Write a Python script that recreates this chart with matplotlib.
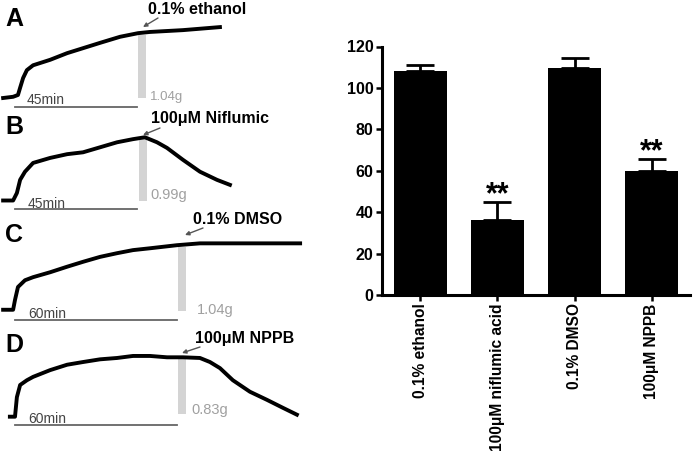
import matplotlib
matplotlib.use("Agg")
import matplotlib.pyplot as plt
import numpy as np

plt.rcParams['font.family'] = ['Liberation Sans', 'DejaVu Sans']

# ---------------- data ----------------
# bar chart (% of control)
categories = ["0.1% ethanol", "100\u03bcM niflumic acid", "0.1% DMSO", "100\u03bcM NPPB"]
means = [108, 36, 109.5, 60]
sems = [3, 9, 5, 5.5]
significant = [False, True, False, True]
yticks = [0, 20, 40, 60, 80, 100, 120]

# tension traces: time (min) and tension above baseline (g)
trace_a_t = [-4.4, -0.7, 1.1, 1.9, 3.0, 4.4, 6.7, 13.0, 19.3, 31.5, 38.9, 45.6, 50.0, 62.2, 75.9]
trace_a_g = [0.0, 0.02, 0.05, 0.17, 0.33, 0.46, 0.54, 0.63, 0.74, 0.91, 1.01, 1.07, 1.09, 1.12, 1.17]

trace_b_t = [-4.4, -0.7, 0.7, 1.9, 3.7, 6.7, 13.0, 19.3, 25.2, 31.5, 37.8, 43.7, 48.1, 52.6, 56.3, 62.2, 68.5, 74.8, 79.6]
trace_b_g = [0.0, 0.0, 0.12, 0.33, 0.46, 0.60, 0.68, 0.74, 0.77, 0.85, 0.93, 0.98, 1.01, 0.93, 0.84, 0.65, 0.46, 0.33, 0.25]

trace_c_t = [-4.4, -0.7, 0.0, 1.1, 3.7, 6.7, 13.0, 19.3, 25.2, 31.5, 37.8, 43.7, 50.0, 60.0, 68.5, 80.7, 93.3, 105.6]
trace_c_g = [0.02, 0.02, 0.18, 0.39, 0.50, 0.55, 0.63, 0.72, 0.80, 0.88, 0.94, 0.99, 1.02, 1.07, 1.10, 1.10, 1.10, 1.10]

trace_d_t = [-1.9, 0.0, 0.7, 1.9, 4.4, 6.7, 13.0, 19.3, 25.2, 31.5, 37.8, 43.7, 50.0, 56.3, 62.2, 68.5, 72.2, 75.9, 80.7, 87.0, 93.3, 99.3, 104.4]
trace_d_g = [-0.04, -0.04, 0.25, 0.43, 0.50, 0.55, 0.65, 0.73, 0.77, 0.81, 0.83, 0.86, 0.86, 0.84, 0.84, 0.83, 0.77, 0.68, 0.50, 0.33, 0.21, 0.09, -0.01]

panel_letters = ["A", "B", "C", "D"]
drug_labels = ["0.1% ethanol", "100\u03bcM Niflumic", "0.1% DMSO", "100\u03bcM NPPB"]
drug_time = [45.5, 46.0, 60.5, 60.5]          # min
amplitude = [1.04, 0.99, 1.04, 0.83]          # g
amplitude_labels = ["1.04g", "0.99g", "1.04g", "0.83g"]
scale_minutes = [45, 45, 60, 60]
scale_labels = ["45min", "45min", "60min", "60min"]

traces = [(trace_a_t, trace_a_g), (trace_b_t, trace_b_g),
          (trace_c_t, trace_c_g), (trace_d_t, trace_d_g)]

# ---------------- figure ----------------
W, H = 693, 459
fig = plt.figure(figsize=(W / 100, H / 100), dpi=100)
fig.patch.set_facecolor("white")

X0 = 15.0        # px position of t=0
PX_MIN = 2.7     # px per minute

# panel layout: (top px, bottom px, baseline px, px per g)
layouts = [(0, 112, 98, 60.6), (112, 215, 200.5, 62.6),
           (215, 325, 311, 61.5), (325, 459, 414, 67.5)]
scalebar_px = [107, 209, 320, 425]

for i, (top, bottom, base, ppg) in enumerate(layouts):
    ax = fig.add_axes([0, 1 - bottom / H, 340 / W, (bottom - top) / H])
    ax.set_xlim((0 - X0) / PX_MIN, (340 - X0) / PX_MIN)
    ax.set_ylim((base - bottom) / ppg, (base - top) / ppg)
    ax.axis("off")
    t, g = traces[i]
    ax.bar(drug_time[i], amplitude[i], width=3, align="edge", color="#d4d4d4",
           zorder=1, clip_on=False)
    ax.plot(t, g, color="black", lw=2.8, solid_joinstyle="round", zorder=3, clip_on=False)
    yb = (base - scalebar_px[i]) / ppg
    ax.plot([0, scale_minutes[i]], [yb, yb], color="#666666", lw=1.3, clip_on=False)

# overlay for text annotations (pixel coordinates)
ov = fig.add_axes([0, 0, 1, 1])
ov.set_xlim(0, W)
ov.set_ylim(H, 0)
ov.axis("off")

letter_pos = [(14, 19), (14, 127), (14, 235), (14, 345)]
label_pos = [(148, 9), (151, 118), (193, 219), (195, 338)]
arrow_from = [(158, 18), (160, 128), (203, 228), (200, 347)]
arrow_to = [(143, 27), (143, 135), (185, 235), (182, 353)]
scale_text_pos = [(27, 100), (28, 204), (28, 314), (28, 419)]
amp_text_pos = [(150, 97), (150, 195), (197, 310), (191, 410)]
amp_sizes = [9.5, 10.5, 10.5, 10.5]

for i in range(4):
    ov.text(*letter_pos[i], panel_letters[i], fontsize=18, fontweight="bold",
            ha="center", va="center")
    ov.text(*label_pos[i], drug_labels[i], fontsize=11.5, fontweight="bold",
            ha="left", va="center")
    ov.annotate("", xy=arrow_to[i], xytext=arrow_from[i],
                arrowprops=dict(arrowstyle="-|>", color="#555555", lw=1.0,
                                mutation_scale=6, shrinkA=0, shrinkB=0))
    ov.text(*scale_text_pos[i], scale_labels[i], fontsize=10, color="#444444",
            ha="left", va="center")
    ov.text(*amp_text_pos[i], amplitude_labels[i], fontsize=amp_sizes[i], color="#a0a0a0",
            ha="left", va="center")

# ---------------- bar chart ----------------
bx0, bx1, by0, by1 = 382, 690, 295, 46.5
axb = fig.add_axes([bx0 / W, 1 - by0 / H, (bx1 - bx0) / W, (by0 - by1) / H])
x = np.arange(len(categories))
axb.bar(x, means, width=0.69, color="black", zorder=2)
axb.errorbar(x, means, yerr=[np.zeros(len(sems)), sems], fmt="none", ecolor="black",
             elinewidth=2.0, capsize=10, capthick=2.0, zorder=1)
for xi, m, s, sig in zip(x, means, sems, significant):
    if sig:
        axb.text(xi, m + s - 4.0, "**", fontsize=22, fontweight="bold",
                 ha="center", va="bottom")
axb.set_xlim(-0.5, 3.5)
axb.set_ylim(0, 120)
axb.set_yticks(yticks)
axb.set_yticklabels([str(v) for v in yticks], fontsize=11.5, fontweight="bold")
axb.set_xticks(x)
axb.set_xticklabels(categories, rotation=90, fontsize=11.2, fontweight="bold")
for side in ["top", "right"]:
    axb.spines[side].set_visible(False)
for side in ["left", "bottom"]:
    axb.spines[side].set_linewidth(2.2)
axb.tick_params(axis="both", direction="out", length=4, width=1.8, pad=2)

fig.savefig("out.png", dpi=100, facecolor="white")
